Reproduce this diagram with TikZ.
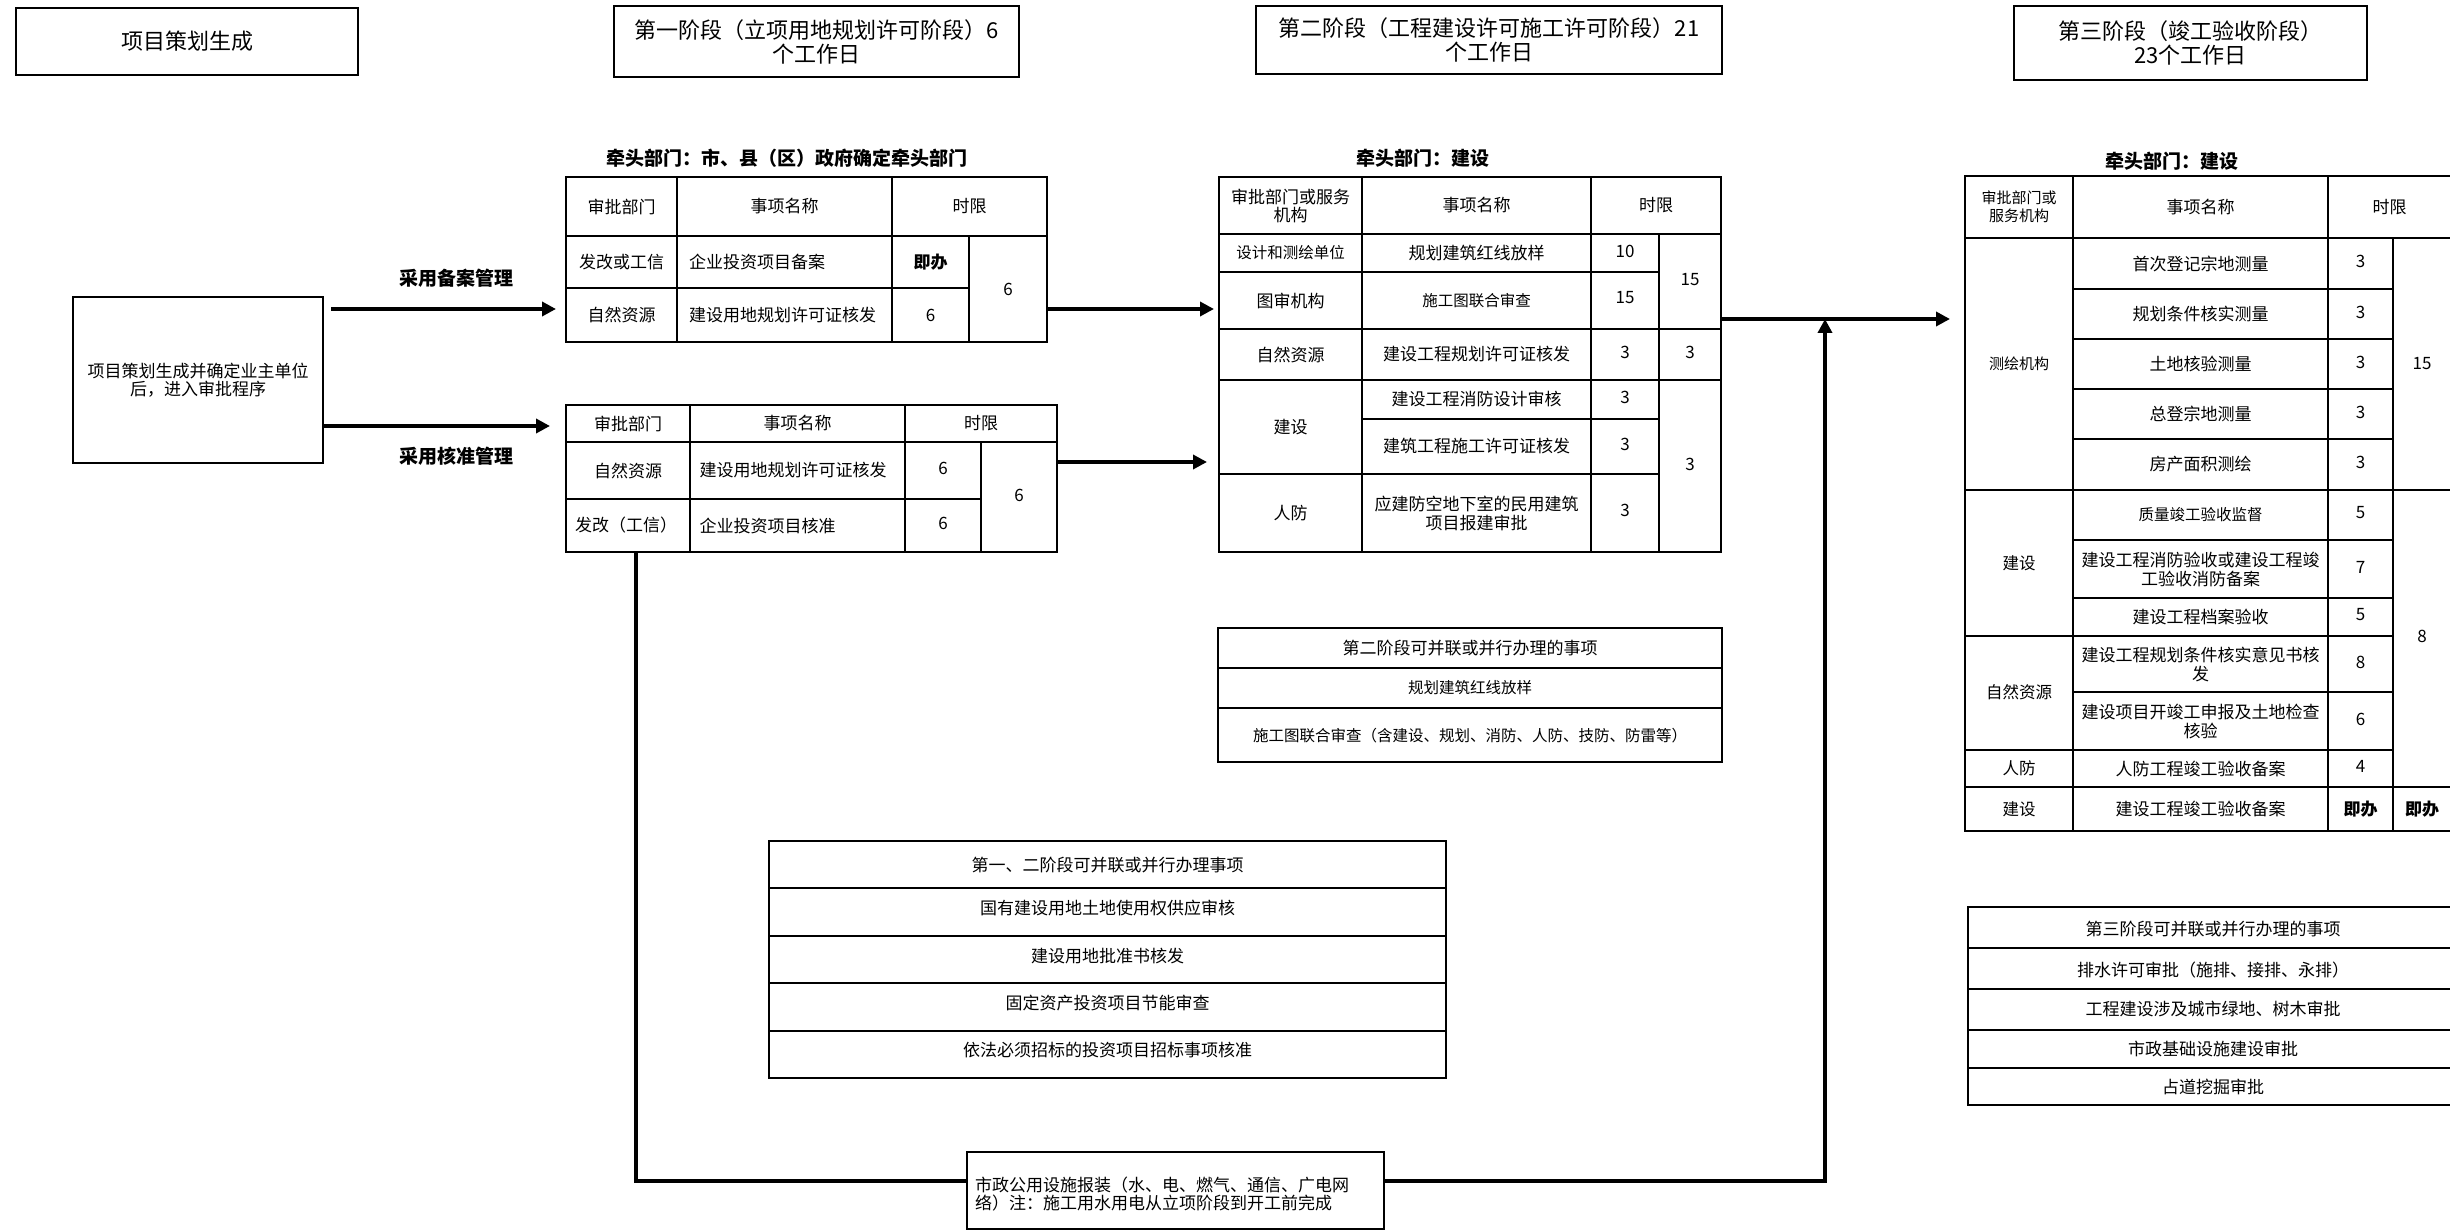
\documentclass[tikz,border=0pt]{standalone}
\usepackage{fontspec}
\setmainfont{Noto Sans CJK SC}
\usetikzlibrary{arrows.meta}
\newcommand\fsz[2]{\fontsize{#1pt}{#2pt}\selectfont}
\tikzset{
  box/.style={draw, line width=1.5pt, inner sep=0pt, outer sep=0pt, anchor=north west, align=center},
  grid/.style={line width=1.5pt},
  txt/.style={inner sep=0pt, align=center, font=\fsz{17}{19}},
  sm/.style={txt, font=\fsz{15.5}{18}},
  lft/.style={txt, font=\fsz{16.5}{19}},
  hd/.style={txt, font=\fsz{15}{18}},
  bld/.style={txt, font=\bfseries\fsz{17}{19}},
  lbl/.style={txt, font=\bfseries\fsz{19}{21}},
  ttl/.style={box, font=\fsz{22}{24}},
  arr/.style={line width=4pt, -{Triangle[length=14pt,width=14pt]}},
  link/.style={line width=3.5pt},
}
\begin{document}
\begin{tikzpicture}[x=1pt,y=-1pt]
\fill[white] (0,0) rectangle (2450,1230);
\useasboundingbox (0,0) rectangle (2450,1230);

% titles
\node[ttl, minimum width=342, minimum height=67] (tA) at (16,8) {项目策划生成};
\node[ttl, minimum width=405, minimum height=71] (tS1) at (614,6) {第一阶段（立项用地规划许可阶段）6\\个工作日};
\node[ttl, minimum width=466, minimum height=68] (tS2) at (1256,6) {第二阶段（工程建设许可施工许可阶段）21\\个工作日};
\node[ttl, minimum width=353, minimum height=74] (tS3) at (2014,6) {第三阶段（竣工验收阶段）\\23个工作日};

% lead departments
\node[lbl] (ld1) at (787,158) {牵头部门：市、县（区）政府确定牵头部门};
\node[lbl] (ld2) at (1423,158) {牵头部门：建设};
\node[lbl] (ld3) at (2172,161) {牵头部门：建设};

% left box
\node[box, font=\fsz{17}{18}, minimum width=250, minimum height=166] (lb) at (73,297) {项目策划生成并确定业主单位\\后，进入审批程序};
\node[lbl] (m1) at (456,278) {采用备案管理};
\node[lbl] (m2) at (456,456) {采用核准管理};

% ===== table 1 (filing)
\node[box, minimum width=481, minimum height=165] (t1) at (566,177) {};
\draw[grid] (566,236) -- (1047,236);
\draw[grid] (566,288) -- (969,288);
\draw[grid] (677,177) -- (677,342);
\draw[grid] (892,177) -- (892,342);
\draw[grid] (969,236) -- (969,342);
\node[txt] (t1h1) at (621.5,206.5) {审批部门};
\node[txt] (t1h2) at (784.5,206.5) {事项名称};
\node[txt] (t1h3) at (969.5,206.5) {时限};
\node[txt] (t1a1) at (621.5,262) {发改或工信};
\node[txt, anchor=west] (t1a2) at (689,262) {企业投资项目备案};
\node[bld] (t1a3) at (930.5,262) {即办};
\node[txt] (t1b1) at (621.5,315) {自然资源};
\node[txt, anchor=west] (t1b2) at (689,315) {建设用地规划许可证核发};
\node[txt] (t1b3) at (930.5,315) {6};
\node[txt] (t1s) at (1008,289) {6};

% ===== table 2 (approval)
\node[box, minimum width=491, minimum height=147] (t2) at (566,405) {};
\draw[grid] (566,442) -- (1057,442);
\draw[grid] (566,499) -- (981,499);
\draw[grid] (690,405) -- (690,552);
\draw[grid] (905,405) -- (905,552);
\draw[grid] (981,442) -- (981,552);
\node[txt] (t2h1) at (628,423.5) {审批部门};
\node[txt] (t2h2) at (797.5,423.5) {事项名称};
\node[txt] (t2h3) at (981,423.5) {时限};
\node[txt] (t2a1) at (628,470.5) {自然资源};
\node[txt, anchor=west] (t2a2) at (699.5,470.5) {建设用地规划许可证核发};
\node[txt] (t2a3) at (943,468) {6};
\node[txt] (t2b1) at (626,525.5) {发改（工信）};
\node[txt, anchor=west] (t2b2) at (699.5,525.5) {企业投资项目核准};
\node[txt] (t2b3) at (943,523) {6};
\node[txt] (t2s) at (1019,495) {6};

% ===== table 3 (stage 2)
\node[box, minimum width=502, minimum height=375] (t3) at (1219,177) {};
\draw[grid] (1219,234) -- (1721,234);
\draw[grid] (1219,329) -- (1721,329);
\draw[grid] (1219,380) -- (1721,380);
\draw[grid] (1219,272) -- (1659,272);
\draw[grid] (1362,419) -- (1659,419);
\draw[grid] (1219,474) -- (1659,474);
\draw[grid] (1362,177) -- (1362,552);
\draw[grid] (1591,177) -- (1591,552);
\draw[grid] (1659,234) -- (1659,552);
\node[txt, font=\fsz{17}{18}] (t3h1) at (1290.5,205.5) {审批部门或服务\\机构};
\node[txt] (t3h2) at (1476.5,205.5) {事项名称};
\node[txt] (t3h3) at (1656,205.5) {时限};
\node[sm] (t3a1) at (1290.5,253) {设计和测绘单位};
\node[txt] (t3a2) at (1476.5,253) {规划建筑红线放样};
\node[txt] (t3a3) at (1625,251) {10};
\node[txt] (t3b1) at (1290.5,300.5) {图审机构};
\node[sm] (t3b2) at (1476.5,300.5) {施工图联合审查};
\node[txt] (t3b3) at (1625,298) {15};
\node[txt] (t3s1) at (1690,280) {15};
\node[txt] (t3c1) at (1290.5,354.5) {自然资源};
\node[txt] (t3c2) at (1476.5,354.5) {建设工程规划许可证核发};
\node[txt] (t3c3) at (1625,352) {3};
\node[txt] (t3c4) at (1690,352) {3};
\node[txt] (t3d1) at (1290.5,427) {建设};
\node[txt] (t3d2) at (1476.5,399.5) {建设工程消防设计审核};
\node[txt] (t3d3) at (1625,397) {3};
\node[txt] (t3e2) at (1476.5,446.5) {建筑工程施工许可证核发};
\node[txt] (t3e3) at (1625,444) {3};
\node[txt] (t3f1) at (1290.5,513) {人防};
\node[txt, font=\fsz{17}{19}] (t3f2) at (1476.5,513) {应建防空地下室的民用建筑\\项目报建审批};
\node[txt] (t3f3) at (1625,510) {3};
\node[txt] (t3s2) at (1690,464) {3};

% ===== table 4 (stage 3)
\node[box, minimum width=486, minimum height=655] (t4) at (1965,176) {};
\foreach \yy in {238,490,787} \draw[grid] (1965,\yy) -- (2451,\yy);
\foreach \yy in {289,339,389,439,540,598,692} \draw[grid] (2073,\yy) -- (2393,\yy);
\foreach \yy in {636,750} \draw[grid] (1965,\yy) -- (2393,\yy);
\draw[grid] (2073,176) -- (2073,831);
\draw[grid] (2328,176) -- (2328,831);
\draw[grid] (2393,238) -- (2393,831);
\node[hd] (t4h1) at (2019,207) {审批部门或\\服务机构};
\node[txt] (t4h2) at (2200.5,207) {事项名称};
\node[txt] (t4h3) at (2389.5,207) {时限};
\node[hd] (t4l1) at (2019,364) {测绘机构};
\node[txt] (t4a2) at (2200.5,263.5) {首次登记宗地测量};
\node[txt] (t4a3) at (2360.5,261.5) {3};
\node[txt] (t4b2) at (2200.5,314) {规划条件核实测量};
\node[txt] (t4b3) at (2360.5,312) {3};
\node[txt] (t4c2) at (2200.5,364) {土地核验测量};
\node[txt] (t4c3) at (2360.5,362) {3};
\node[txt] (t4d2) at (2200.5,414) {总登宗地测量};
\node[txt] (t4d3) at (2360.5,412) {3};
\node[txt] (t4e2) at (2200.5,464.5) {房产面积测绘};
\node[txt] (t4e3) at (2360.5,462.5) {3};
\node[txt] (t4s1) at (2422,364) {15};
\node[lft] (t4l2) at (2019,563) {建设};
\node[sm] (t4f2) at (2200.5,515) {质量竣工验收监督};
\node[txt] (t4f3) at (2360.5,513) {5};
\node[txt, font=\fsz{17}{19}] (t4g2) at (2200.5,569) {建设工程消防验收或建设工程竣\\工验收消防备案};
\node[txt] (t4g3) at (2360.5,567) {7};
\node[txt] (t4h2b) at (2200.5,617) {建设工程档案验收};
\node[txt] (t4h3b) at (2360.5,615) {5};
\node[lft] (t4l3) at (2019,692) {自然资源};
\node[txt, font=\fsz{17}{19}] (t4i2) at (2200.5,664) {建设工程规划条件核实意见书核\\发};
\node[txt] (t4i3) at (2360.5,662) {8};
\node[txt, font=\fsz{17}{19}] (t4j2) at (2200.5,721) {建设项目开竣工申报及土地检查\\核验};
\node[txt] (t4j3) at (2360.5,719) {6};
\node[txt] (t4s2) at (2422,636) {8};
\node[lft] (t4l4) at (2019,768.5) {人防};
\node[txt] (t4k2) at (2200.5,768.5) {人防工程竣工验收备案};
\node[txt] (t4k3) at (2360.5,766.5) {4};
\node[lft] (t4l5) at (2019,809) {建设};
\node[txt] (t4m2) at (2200.5,809) {建设工程竣工验收备案};
\node[bld] (t4m3) at (2360.5,809) {即办};
\node[bld] (t4m4) at (2422,809) {即办};

% ===== parallel boxes
\node[box, minimum width=504, minimum height=134] (p2) at (1218,628) {};
\draw[grid] (1218,668) -- (1722,668);
\draw[grid] (1218,708) -- (1722,708);
\node[txt] (p2a) at (1470,648) {第二阶段可并联或并行办理的事项};
\node[sm] (p2b) at (1470,688) {规划建筑红线放样};
\node[sm] (p2c) at (1470,736) {施工图联合审查（含建设、规划、消防、人防、技防、防雷等）};

\node[box, minimum width=677, minimum height=237] (p12) at (769,841) {};
\foreach \yy in {888,936,983,1031} \draw[grid] (769,\yy) -- (1446,\yy);
\node[txt] (p12a) at (1107.5,865) {第一、二阶段可并联或并行办理事项};
\node[txt] (p12b) at (1107.5,908) {国有建设用地土地使用权供应审核};
\node[txt] (p12c) at (1107.5,956) {建设用地批准书核发};
\node[txt] (p12d) at (1107.5,1003) {固定资产投资项目节能审查};
\node[txt] (p12e) at (1107.5,1050) {依法必须招标的投资项目招标事项核准};

\node[box, minimum width=490, minimum height=198] (p3) at (1968,907) {};
\foreach \yy in {948,989,1030,1068} \draw[grid] (1968,\yy) -- (2458,\yy);
\node[txt] (p3a) at (2213,929) {第三阶段可并联或并行办理的事项};
\node[txt] (p3b) at (2213,970) {排水许可审批（施排、接排、永排）};
\node[txt] (p3c) at (2213,1009) {工程建设涉及城市绿地、树木审批};
\node[txt] (p3d) at (2213,1049) {市政基础设施建设审批};
\node[txt] (p3e) at (2213,1087) {占道挖掘审批};

% bottom utility box
\node[box, minimum width=417, minimum height=77] (bb) at (967,1152) {};
\node[txt, align=left, anchor=west, font=\fsz{17}{18}] (bbt) at (975,1194) {市政公用设施报装（水、电、燃气、通信、广电网\\络）注：施工用水用电从立项阶段到开工前完成};

% ===== connectors
\coordinate (ya) at (0,309);
\coordinate (yb) at (0,426);
\coordinate (yc) at (0,462);
\coordinate (yd) at (0,319);
\coordinate (ye) at (0,1181);
\coordinate (xa) at (636,0);
\coordinate (jn) at (1825,319);

\draw[arr, shorten <=8pt, shorten >=10pt] (lb.east |- ya) -- (t1.west |- ya);
\draw[arr, shorten >=16pt] (lb.east |- yb) -- (t2.west |- yb);
\draw[arr, shorten >=5pt] (t1.east |- ya) -- (t3.west |- ya);
\draw[arr, shorten >=12pt] (t2.east |- yc) -- (t3.west |- yc);
\draw[arr, shorten >=15pt] (t3.east |- yd) -- (t4.west |- yd);
\draw[link] (t2.south -| xa) -- (xa |- ye) -- (bb.west |- ye);
\draw[arr] (bb.east |- ye) -| (jn);
\end{tikzpicture}
\end{document}
